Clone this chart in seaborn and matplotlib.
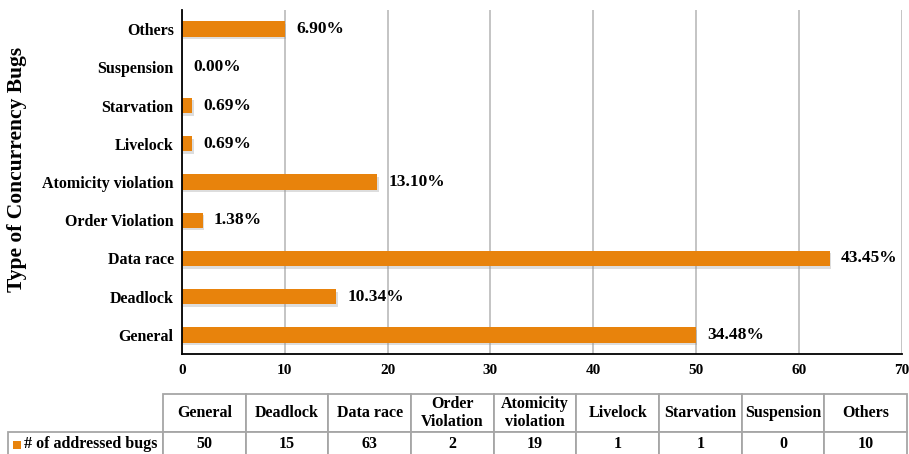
import matplotlib
matplotlib.use("Agg")
import matplotlib.pyplot as plt
import matplotlib.patheffects as pe
from matplotlib.patches import Rectangle
from matplotlib.table import Table
import pandas as pd
import seaborn as sns

# Bug categories (table order, bottom-to-top on the bar axis)
categories = ["General", "Deadlock", "Data race", "Order Violation",
              "Atomicity violation", "Livelock", "Starvation", "Suspension", "Others"]
table_headers = ["General", "Deadlock", "Data race", "Order\nViolation",
                 "Atomicity\nviolation", "Livelock", "Starvation", "Suspension", "Others"]
bug_counts = [50, 15, 63, 2, 19, 1, 1, 0, 10]
# number of studies reviewed; shares are reported relative to this total
total_studies = 145
series_name = "# of addressed bugs"
x_ticks = [0, 10, 20, 30, 40, 50, 60, 70]
y_title = "Type of Concurrency Bugs"

BAR_COLOR = "#E8830C"
GRID_COLOR = "#BFBFBF"
TABLE_EDGE = "#A6A6A6"
W, H = 909, 454

sns.set_theme(style="white")
plt.rcParams["font.family"] = ["Liberation Serif", "DejaVu Serif"]
plt.rcParams["font.weight"] = "bold"
plt.rcParams["text.color"] = "black"
plt.rcParams["axes.labelcolor"] = "black"

df = pd.DataFrame({"category": categories, "count": bug_counts})
df["share"] = df["count"] / total_studies * 100

fig = plt.figure(figsize=(W / 100, H / 100), dpi=100)
ax = fig.add_axes([182 / W, 1 - 354 / H, (901.6 - 182) / W, (354 - 10) / H])

order = categories[::-1]
sns.barplot(data=df, x="count", y="category", order=order, color=BAR_COLOR,
            saturation=1, width=0.4, linewidth=0, ax=ax)

shadow = [pe.SimplePatchShadow(offset=(1.0, -1.8), shadow_rgbFace="#909090", alpha=0.3),
          pe.Normal()]
for bar in ax.patches:
    bar.set_path_effects(shadow)

share_by_cat = dict(zip(df["category"], df["share"]))
ax.bar_label(ax.containers[0],
             labels=[f"{share_by_cat[c]:.2f}%" for c in order],
             padding=8, fontsize=12.5, fontweight="bold", color="black")

ax.set_xlim(0, 70)
ax.set_xticks(x_ticks)
ax.set_xlabel("")
ax.set_ylabel("")
ax.xaxis.grid(True, color=GRID_COLOR, linewidth=1.3)
ax.yaxis.grid(False)
ax.set_axisbelow(True)
for side in ("top", "right"):
    ax.spines[side].set_visible(False)
for side in ("left", "bottom"):
    ax.spines[side].set_color("black")
    ax.spines[side].set_linewidth(1.3)
ax.tick_params(axis="x", length=0, pad=7, labelsize=11, labelcolor="black")
ax.tick_params(axis="y", length=0, pad=6, labelsize=11.5, labelcolor="black")
for lab in ax.get_xticklabels() + ax.get_yticklabels():
    lab.set_fontweight("bold")

fig.text(17 / W, 1 - 169 / H, y_title, rotation=90, ha="center", va="center",
         fontsize=15.5, fontweight="bold", color="black")

# Data table beneath the chart (cell sizes in figure fractions)
tab_ax = fig.add_axes([0, 0, 1, 1])
tab_ax.set_axis_off()
col_w = 744 / 9 / W
head_h, row_h = 38 / H, 24 / H
table = Table(tab_ax, bbox=[163 / W, -2 / H, 744 / W, 62 / H])
for j, head in enumerate(table_headers):
    table.add_cell(0, j, width=col_w, height=head_h, text=head, loc="center")
for j, val in enumerate(bug_counts):
    table.add_cell(1, j, width=col_w, height=row_h, text=str(val), loc="center")
table.add_cell(1, -1, width=155 / W, height=row_h, text=series_name, loc="left")
table.auto_set_font_size(False)
table.set_fontsize(11.5)
for cell in table.get_celld().values():
    cell.set_edgecolor(TABLE_EDGE)
    cell.set_linewidth(1.3)
    cell.get_text().set_fontweight("bold")
    cell.get_text().set_color("black")
tab_ax.add_table(table)

# Legend key in the row label cell
tab_ax.add_patch(Rectangle((12.7 / W, 1 - 449 / H), 8 / W, 8 / H,
                           transform=tab_ax.transAxes, facecolor=BAR_COLOR,
                           edgecolor="none"))

fig.savefig("out.png", dpi=100)
